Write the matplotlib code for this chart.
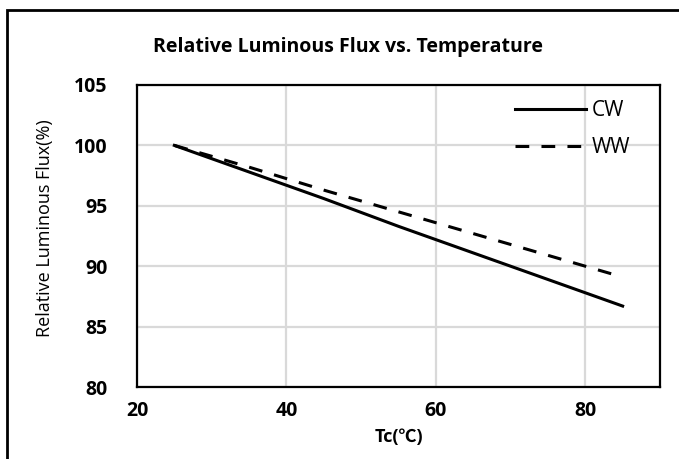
import matplotlib.pyplot as plt
from matplotlib.patches import Rectangle

plt.rcParams['font.family'] = ['Open Sans', 'Noto Sans CJK KR', 'DejaVu Sans']

temps = [25, 35, 45, 55, 65, 75, 85]
cwFlux = [100, 97.8, 95.6, 93.3, 91.1, 88.9, 86.7]
wwFlux = [100, 98.2, 96.3, 94.5, 92.7, 90.9, 89.1]
xTicks = [20, 40, 60, 80]
yTicks = [80, 85, 90, 95, 100, 105]

W, H = 679, 459
fig = plt.figure(figsize=(W / 100, H / 100), dpi=100)
# axes box in pixels: left 137, right 660, top 85, bottom 387
ax = fig.add_axes([137 / W, (H - 387) / H, (660 - 137) / W, (387 - 85) / H])

ax.plot(temps, cwFlux, color='black', lw=2.2, label='CW')
ax.plot(temps, wwFlux, color='black', lw=2.2, ls=(0, (4.5, 4)), label='WW')

ax.set_xlim(20, 90)
ax.set_ylim(80, 105)
ax.set_xticks(xTicks)
ax.set_yticks(yTicks)
ax.grid(True, color='#d9d9d9', lw=1.6)
ax.set_axisbelow(True)
ax.tick_params(axis='x', length=0, labelsize=14, pad=10)
ax.tick_params(axis='y', length=0, labelsize=14, pad=21)
for lbl in ax.get_xticklabels() + ax.get_yticklabels():
    lbl.set_fontweight('bold')
for s in ax.spines.values():
    s.set_linewidth(1.6)

ax.set_xlabel('Tc(℃)', fontsize=13, fontweight='bold', labelpad=5)
ax.set_ylabel('Relative Luminous Flux(%)', fontsize=13)
# label's right edge sits at this x, so the text centres near x=45 px
ax.yaxis.set_label_coords((54 - 137) / (660 - 137), (387 - 228) / (387 - 85))

fig.text(348 / W, 1 - 47 / H, 'Relative Luminous Flux vs. Temperature', fontsize=14,
         fontweight='bold', ha='center', va='center')

ax.legend(loc='center left', bbox_to_anchor=((515 - 137) / 523, (387 - 129) / 302),
          frameon=False, fontsize=15, handlelength=3.4, handletextpad=0.3,
          borderpad=0, borderaxespad=0, labelspacing=0.75)

fig.patches.append(Rectangle((6.5 / W, -0.1), 1.2, 1.1 - 10.5 / H, transform=fig.transFigure,
                             fill=False, edgecolor='black', lw=2))

fig.savefig('out.png', dpi=100)
